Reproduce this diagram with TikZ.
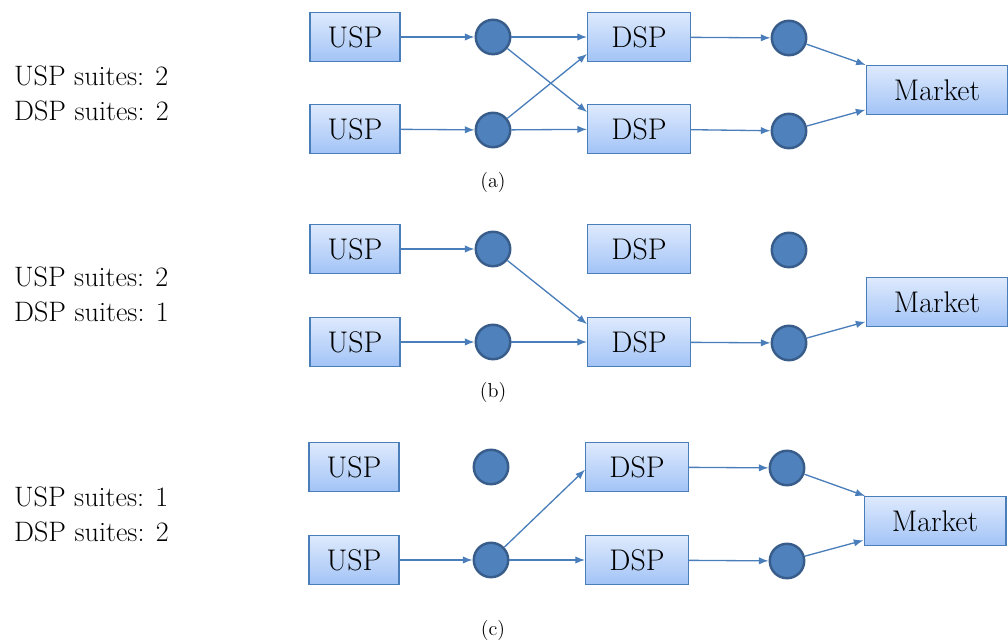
\documentclass[tikz,border=0pt]{standalone}
\usetikzlibrary{arrows.meta,shadings}
\definecolor{flow}{RGB}{74,126,187}
\definecolor{dotfill}{RGB}{79,129,189}
\definecolor{dotline}{RGB}{56,93,138}
\definecolor{boxtop}{RGB}{222,234,253}
\definecolor{boxbot}{RGB}{162,195,246}
\begin{document}
\begin{tikzpicture}[x=0.02cm,y=-0.02cm,
  stagebox/.style={draw=flow,line width=0.6pt,top color=boxtop,bottom color=boxbot,
    minimum height=27.9pt,inner sep=0pt,font=\fontsize{17}{20}\selectfont},
  usp/.style={stagebox,minimum width=51.2pt},
  dsp/.style={stagebox,minimum width=58.6pt},
  market/.style={stagebox,minimum width=80.8pt},
  hub/.style={circle,draw=dotline,line width=1.4pt,fill=dotfill,minimum size=19.6pt,inner sep=0pt},
  flowarrow/.style={draw=flow,line width=0.75pt,-{Latex[length=5.5pt,width=4.2pt]}},
  sidetext/.style={align=left,anchor=west,font=\fontsize{16}{20}\selectfont},
  caption/.style={font=\fontsize{11.5}{14}\selectfont}]
\useasboundingbox (0,0) rectangle (1008,644);

% ---- (a) two USP suites, two DSP suites
\node[sidetext] (ta) at (8,93) {USP suites: 2\\DSP suites: 2};
\node[usp] (au1) at (355,37) {USP};
\node[usp] (au2) at (355,129) {USP};
\node[hub] (ac1) at (493,37) {};
\node[hub] (ac2) at (493,130) {};
\node[dsp] (ad1) at (639,37) {DSP};
\node[dsp] (ad2) at (639,129) {DSP};
\node[hub] (ar1) at (789,38) {};
\node[hub] (ar2) at (789,131) {};
\node[market] (am) at (937,90) {Market};
\node[caption] (ca) at (493,182) {(a)};
\draw[flowarrow] (au1) -- (ac1);
\draw[flowarrow] (au2) -- (ac2);
\draw[flowarrow] (ac1) -- (ad1);
\draw[flowarrow] (ac1) -- (ad2.162);
\draw[flowarrow] (ac2) -- (ad1.198);
\draw[flowarrow] (ac2) -- (ad2);
\draw[flowarrow] (ad1) -- (ar1);
\draw[flowarrow] (ad2) -- (ar2);
\draw[flowarrow] (ar1) -- (am);
\draw[flowarrow] (ar2) -- (am);

% ---- (b) two USP suites, one DSP suite
\node[sidetext] (tb) at (8,294) {USP suites: 2\\DSP suites: 1};
\node[usp] (bu1) at (355,249) {USP};
\node[usp] (bu2) at (355,342) {USP};
\node[hub] (bc1) at (493,249) {};
\node[hub] (bc2) at (493,342) {};
\node[dsp] (bd1) at (639,249) {DSP};
\node[dsp] (bd2) at (639,342) {DSP};
\node[hub] (br1) at (789,250) {};
\node[hub] (br2) at (789,343) {};
\node[market] (bm) at (937,302) {Market};
\node[caption] (cb) at (493,392) {(b)};
\draw[flowarrow] (bu1) -- (bc1);
\draw[flowarrow] (bu2) -- (bc2);
\draw[flowarrow] (bc1) -- (bd2.161);
\draw[flowarrow] (bc2) -- (bd2);
\draw[flowarrow] (bd2) -- (br2);
\draw[flowarrow] (br2) -- (bm);

% ---- (c) one USP suite, two DSP suites
\node[sidetext] (tc) at (8,514) {USP suites: 1\\DSP suites: 2};
\node[usp] (cu1) at (354,467) {USP};
\node[usp] (cu2) at (354,560) {USP};
\node[hub] (cc1) at (491,467) {};
\node[hub] (cc2) at (491,560) {};
\node[dsp] (cd1) at (637,467) {DSP};
\node[dsp] (cd2) at (637,560) {DSP};
\node[hub] (cr1) at (787,468) {};
\node[hub] (cr2) at (787,561) {};
\node[market] (cm) at (935,521) {Market};
\node[caption] (cl) at (493,630) {(c)};
\draw[flowarrow] (cu2) -- (cc2);
\draw[flowarrow] (cc2) -- (cd1.183);
\draw[flowarrow] (cc2) -- (cd2);
\draw[flowarrow] (cd1) -- (cr1);
\draw[flowarrow] (cd2) -- (cr2);
\draw[flowarrow] (cr1) -- (cm);
\draw[flowarrow] (cr2) -- (cm);
\end{tikzpicture}
\end{document}
